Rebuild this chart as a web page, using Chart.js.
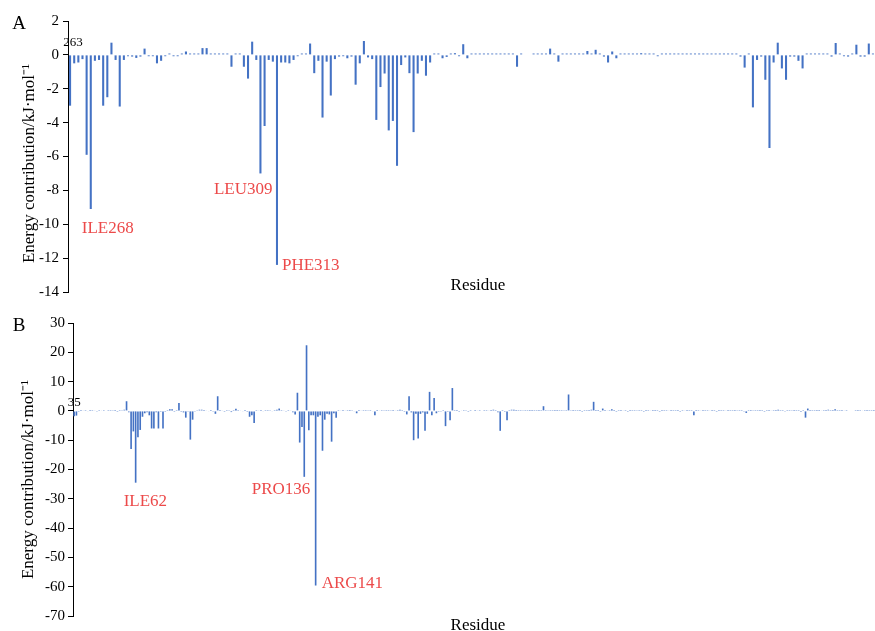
<!DOCTYPE html>
<html>
<head>
<meta charset="utf-8">
<script src="https://cdn.jsdelivr.net/npm/chart.js@4.4.1/dist/chart.umd.min.js"></script>
<style>
  html, body { margin: 0; padding: 0; background: #fff; }
  #wrap { position: relative; width: 875px; height: 631px; }
  #cA { position: absolute; left: 0; top: 0; }
  #cB { position: absolute; left: 0; top: 305px; }
</style>
</head>
<body>
<div id="wrap">
  <canvas id="cA" width="875" height="305"></canvas>
  <canvas id="cB" width="875" height="326"></canvas>
</div>
<script>
// ---------- Panel A data (residues 263..457) ----------
const startResidueA = 263;
const energyA = [
  -3.0, -0.5, -0.45, -0.25, -5.9, -9.1, -0.35, -0.3, -3.0, -2.5, 0.72, -0.3, -3.05, -0.3, -0.08, -0.1, -0.18, -0.1, 0.37, -0.08,
  -0.08, -0.5, -0.35, -0.08, 0.08, -0.08, -0.08, 0.08, 0.2, 0.08, 0.08, 0.08, 0.4, 0.4, 0.08, 0.08, 0.08, 0.08, 0.08, -0.7,
  0.08, 0.08, -0.7, -1.4, 0.78, -0.3, -7.0, -4.2, -0.3, -0.4, -12.4, -0.45, -0.45, -0.5, -0.3, -0.08, 0.08, 0.08, 0.67, -1.08,
  -0.35, -3.7, -0.4, -2.4, -0.25, -0.1, -0.08, -0.2, -0.1, -1.76, -0.5, 0.82, -0.15, -0.25, -3.84, -1.9, -1.1, -4.46, -3.9, -6.55,
  -0.6, -0.15, -1.08, -4.56, -1.1, -0.35, -1.23, -0.45, 0.08, 0.08, -0.2, -0.12, 0.08, 0.1, -0.08, 0.63, -0.2, 0.08, 0.08, 0.08,
  0.08, 0.08, 0.08, 0.08, 0.08, 0.08, 0.08, 0.08, -0.7, 0.08, 0, 0, 0.08, 0.08, 0.08, 0.08, 0.37, 0.08, -0.4, 0.08,
  0.08, 0.08, 0.08, 0.08, 0.08, 0.23, 0.08, 0.3, 0.08, -0.1, -0.45, 0.2, -0.2, 0.08, 0.08, 0.08, 0.08, 0.08, 0.1, 0.08,
  0.08, 0.08, -0.08, 0.08, 0.08, 0.08, 0.08, 0.08, 0.08, 0.08, 0.08, 0.08, 0.08, 0.08, 0.08, 0.08, 0.08, 0.08, 0.08, 0.08,
  0.08, 0.08, -0.1, -0.75, 0.08, -3.1, -0.3, -0.1, -1.47, -5.5, -0.45, 0.72, -0.8, -1.47, -0.1, -0.1, -0.35, -0.8, 0.08, 0.08,
  0.08, 0.08, 0.08, 0.08, -0.1, 0.7, 0.08, -0.08, -0.1, 0.08, 0.6, -0.1, -0.1, 0.67, 0.08
];
const residuesA = energyA.map((_, i) => String(startResidueA + i));
const highlightsA = [
  { residue: 'ILE268', index: 5 },
  { residue: 'LEU309', index: 46 },
  { residue: 'PHE313', index: 50 }
];
const yTicksA = { min: -14, max: 2, step: 2 };

// ---------- Panel B data (residues 35..386) ----------
const startResidueB = 35;
const energyB = [
  -1.8, -1.6, -0.3, 0.3, 0.2, 0.3, -0.2, 0.3, 0.3, 0.2, -0.3, 0.3, 0.2, 0.3, -0.2, 0.3, 0.3, 0.2, 0.3, -0.3,
  0.3, 0.2, 0.4, 3.3, -0.5, -13, -7, -24.5, -9, -6.5, -2, -0.8, -0.5, -1.5, -6, -6, -0.5, -6, -0.3, -6,
  -0.3, 0.3, 0.6, 0.6, -0.3, 0.3, 2.7, -0.3, -0.5, -2.3, -0.3, -9.8, -3, -0.3, 0.2, 0.4, 0.4, 0.3, 0.2, -0.2,
  0.3, -0.3, -1, 5, 0.3, 0.2, -0.3, 0.3, 0.2, -0.4, 0.3, 0.7, 0.3, 0.2, -0.2, 0.3, -0.3, -2, -1.5, -4.1,
  0.3, 0.2, 0.3, -0.2, 0.3, 0.3, 0.2, -0.2, 0.3, 0.4, 0.8, 0.3, 0.2, -0.3, 0.3, 0.2, -0.5, -1.2, 6.2, -10.8,
  -5.5, -22.5, 22.4, -6.6, -1.5, -1.5, -59.6, -2, -1.5, -13.6, -3, -1, -1.2, -10.5, -0.8, -2.3, 0.3, 0.2, 0.3, 0.2,
  0.3, 0.3, 0.2, -0.2, -0.8, 0.3, 0.2, 0.3, 0.3, 0.2, 0.3, -0.2, -1.5, 0.3, 0.2, 0.3, 0.2, 0.3, 0.3, 0.2,
  0.3, 0.2, 0.3, 0.4, 0.3, -0.3, -1.2, 5, -0.5, -10, -1, -9.4, -1, -0.5, -6.8, -1, 6.5, -1.5, 4.4, -0.8,
  -0.3, -0.3, 0.3, -5.2, -0.3, -3.2, 7.8, 0.3, 0.3, -0.3, 0.2, 0.3, 0.2, -0.3, 0.3, 0, 0.3, 0.2, 0.3, -0.2,
  0.3, 0.3, 0.2, 0.3, 0.4, 0.3, -0.5, -6.8, 0.3, -0.3, -3.2, 0.3, 0.4, 0.4, 0.3, 0.3, 0.3, 0.2, 0.3, 0.3,
  0.3, 0.3, 0.3, 0.3, 0.3, 0.3, 1.6, 0.3, 0.2, 0.3, 0.3, 0.3, 0.3, 0.3, 0.3, 0.2, 0.3, 5.6, 0.2, 0.3,
  0.3, 0.3, 0.3, -0.3, 0.3, 0.3, 0.3, 0.4, 3.1, 0.3, 0.3, -0.3, 0.8, 0.3, 0.2, 0.3, 0.6, 0.3, -0.3, 0.3,
  0.3, 0.2, 0.3, -0.3, 0.3, 0.3, 0.3, 0.2, 0.3, 0.3, -0.3, 0.3, 0.3, 0.2, 0.3, 0.3, 0.3, -0.3, 0.3, 0.3,
  0.3, 0.2, 0.3, 0.3, 0.3, 0.3, -0.3, 0.3, 0.2, 0.3, 0.3, 0.3, -1.5, 0.3, 0.3, 0.2, 0.3, 0.3, 0.3, 0.2,
  0.3, 0.3, -0.3, 0.3, 0.3, 0.3, 0.2, 0.3, 0.3, 0.3, 0.3, 0.2, 0.3, 0.3, -0.3, -0.7, 0.3, 0.3, 0.2, 0.3,
  0.3, 0.3, 0.3, -0.3, 0.3, 0.3, 0.2, 0.3, 0.3, 0.4, 0.3, 0.3, -0.3, 0.3, 0.3, 0.2, 0.3, 0.3, 0.3, -0.4,
  0.3, -2.3, 0.8, 0.3, 0.3, 0.3, 0.3, 0.3, 0.2, 0.3, 0.3, 0.4, 0.3, 0.3, 0.6, 0.3, 0.3, 0.3, 0.2, 0.3,
  0, 0, 0, 0.3, 0.3, 0.3, 0.2, 0.3, 0.3, 0.3, 0.3, 0.3
];
const residuesB = energyB.map((_, i) => String(startResidueB + i));
const highlightsB = [
  { residue: 'ILE62', index: 27 },
  { residue: 'PRO136', index: 101 },
  { residue: 'ARG141', index: 106 }
];
const yTicksB = { min: -70, max: 30, step: 10 };

// ---------- texts ----------
const yTitle = 'Energy contribution/kJ\u00B7mol\u207B\u00B9';
const xTitle = 'Residue';

const SERIF = '"Liberation Serif", "Times New Roman", serif';
const BAR = '#4472C4';
const RED = '#EC4A4A';

// plugin drawing panel letter, axis titles, first-residue label and highlight labels
const decor = {
  id: 'decor',
  afterDatasetsDraw(chart, args, o) {
    const ctx = chart.ctx;
    const ca = chart.chartArea;
    const meta = chart.getDatasetMeta(0);
    const ys = chart.scales.y;
    const zeroY = ys.getPixelForValue(0);
    ctx.save();
    ctx.fillStyle = '#000';
    ctx.font = '19px ' + SERIF;
    ctx.textAlign = 'center';
    ctx.textBaseline = 'middle';
    ctx.fillText(o.letter, o.letterX, o.letterY);
    ctx.save();
    ctx.translate(o.yTitleX, (ca.top + ca.bottom) / 2 + o.yTitleShift);
    ctx.rotate(-Math.PI / 2);
    ctx.font = '17px ' + SERIF;
    ctx.fillText(yTitle, 0, 0);
    ctx.restore();
    ctx.font = '17px ' + SERIF;
    ctx.fillText(xTitle, o.xTitleX, ca.bottom + o.xTitleShift);
    ctx.font = '13px ' + SERIF;
    ctx.fillText(chart.data.labels[0], meta.data[0].x + o.firstDx, zeroY + o.firstDy);
    ctx.fillStyle = RED;
    ctx.font = '17px ' + SERIF;
    o.highlights.forEach((h, k) => {
      const bar = meta.data[h.index];
      const p = o.placement[k];
      ctx.textAlign = p.align;
      ctx.fillText(h.residue, bar.x + p.dx, bar.y + p.dy);
    });
    ctx.restore();
  }
};

function makeChart(id, labels, values, ticks, axisWidth, padTop, padBottom, barPct, labelPad, decorOpts) {
  return new Chart(document.getElementById(id), {
    type: 'bar',
    data: {
      labels: labels,
      datasets: [{
        data: values,
        backgroundColor: BAR,
        borderWidth: 0,
        barPercentage: barPct,
        categoryPercentage: 1.0
      }]
    },
    options: {
      responsive: false,
      animation: false,
      events: [],
      layout: { padding: { top: padTop, bottom: padBottom, left: 0, right: 0 } },
      plugins: {
        legend: { display: false },
        tooltip: { enabled: false },
        decor: decorOpts
      },
      scales: {
        x: { type: 'category', display: false, offset: true },
        y: {
          min: ticks.min,
          max: ticks.max,
          afterFit(scale) { scale.width = axisWidth; },
          ticks: {
            stepSize: ticks.step,
            color: '#000',
            padding: labelPad,
            font: { family: SERIF, size: 15 }
          },
          grid: { display: true, drawOnChartArea: false, drawTicks: true, tickLength: 5, color: '#000', lineWidth: 1 },
          border: { display: true, color: '#000', width: 1 },
          title: { display: false }
        }
      }
    },
    plugins: [decor]
  });
}

makeChart('cA', residuesA, energyA, yTicksA, 68, 21, 11, 0.5, 4, {
  letter: 'A', letterX: 19, letterY: 24,
  yTitleX: 30, yTitleShift: 7,
  xTitleX: 478, xTitleShift: -6,
  firstDx: 3, firstDy: -12,
  highlights: highlightsA,
  placement: [
    { align: 'left', dx: -9, dy: 20 },
    { align: 'right', dx: 12, dy: 16 },
    { align: 'left', dx: 5, dy: 1 }
  ]
});

makeChart('cB', residuesB, energyB, yTicksB, 73, 18, 15, 0.72, 3, {
  letter: 'B', letterX: 19, letterY: 21,
  yTitleX: 29, yTitleShift: 10,
  xTitleX: 478, xTitleShift: 10,
  firstDx: 0, firstDy: -8,
  highlights: highlightsB,
  placement: [
    { align: 'left', dx: -12, dy: 19 },
    { align: 'right', dx: 6, dy: 13 },
    { align: 'left', dx: 6, dy: -2 }
  ]
});
</script>
</body>
</html>
